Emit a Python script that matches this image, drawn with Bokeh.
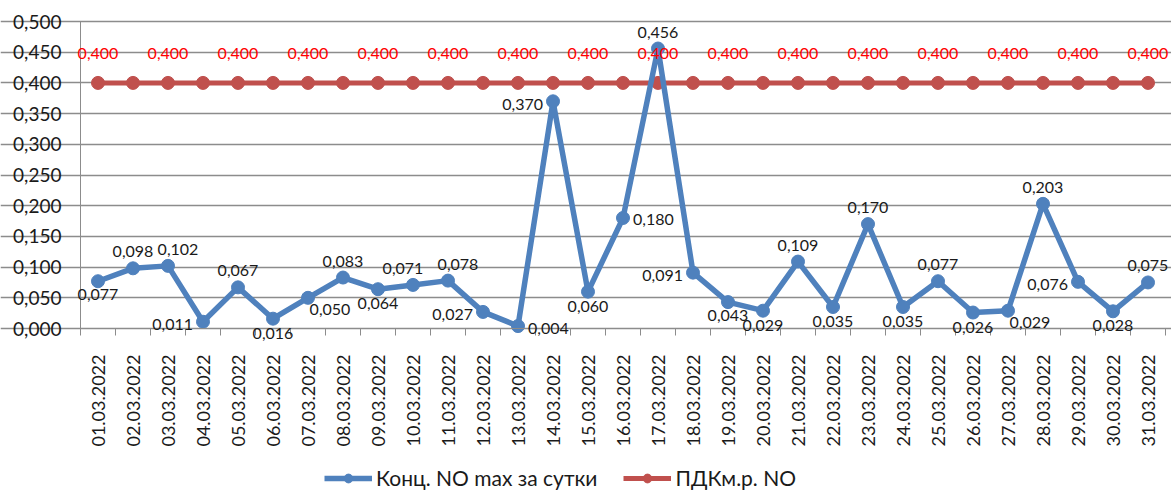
from bokeh.plotting import figure
from bokeh.models import (Range1d, FixedTicker, Legend, LegendItem, ColumnDataSource, LinearAxis,
                          LabelSet)
from bokeh.core.properties import value
from bokeh.embed import file_html
from bokeh.resources import INLINE
import math

# ---- data ----
dates = ["01.03.2022", "02.03.2022", "03.03.2022", "04.03.2022", "05.03.2022", "06.03.2022",
         "07.03.2022", "08.03.2022", "09.03.2022", "10.03.2022", "11.03.2022", "12.03.2022",
         "13.03.2022", "14.03.2022", "15.03.2022", "16.03.2022", "17.03.2022", "18.03.2022",
         "19.03.2022", "20.03.2022", "21.03.2022", "22.03.2022", "23.03.2022", "24.03.2022",
         "25.03.2022", "26.03.2022", "27.03.2022", "28.03.2022", "29.03.2022", "30.03.2022",
         "31.03.2022"]
no_max = [0.077, 0.098, 0.102, 0.011, 0.067, 0.016, 0.050, 0.083, 0.064, 0.071, 0.078,
          0.027, 0.004, 0.370, 0.060, 0.180, 0.456, 0.091, 0.043, 0.029, 0.109, 0.035,
          0.170, 0.035, 0.077, 0.026, 0.029, 0.203, 0.076, 0.028, 0.075]
pdk = [0.400] * 31
y_ticks = [0, 0.05, 0.1, 0.15, 0.2, 0.25, 0.3, 0.35, 0.4, 0.45, 0.5]
y_tick_labels = ["0,000", "0,050", "0,100", "0,150", "0,200", "0,250", "0,300", "0,350",
                 "0,400", "0,450", "0,500"]
series_names = ["Конц. NO max за сутки", "ПДКм.р. NO"]

# label placement of the blue data labels (style only)
label_pos = ["bl", "a", "ar", "l", "a", "b", "br", "a", "b", "al", "ar",
             "l", "r", "l", "b", "r", "a", "l", "bl", "b", "a", "b",
             "a", "b", "a", "b", "br", "a", "l", "b", "a"]

FONT = "Lato"
BLUE = "#4F81BD"
RED = "#C0504D"
GRID = "#8C8C8C"
TXT = "#1a1a1a"

W, H = 1171, 490
LEFT, RIGHT, TOP, BOTTOM = 80, 1165, 21, 328      # plot area in pixels
n = len(dates)
ppx = (RIGHT - LEFT) / n                            # px per category
ppy = (BOTTOM - TOP) / 0.5                          # px per unit
x_start = 0.5 - LEFT / ppx
x_end = n + 0.5 + (W - RIGHT) / ppx
y_end = 0.5 + TOP / ppy
y_start = -(H - BOTTOM) / ppy

x = list(range(1, n + 1))

p = figure(width=W, height=H, x_range=Range1d(x_start, x_end), y_range=Range1d(y_start, y_end),
           output_backend="svg", toolbar_location=None,
           min_border_left=0, min_border_right=0, min_border_top=0, min_border_bottom=0,
           x_axis_location=None, y_axis_location=None)
p.outline_line_color = None
p.background_fill_color = "white"
p.border_fill_color = "white"

# y axis
yax = LinearAxis(ticker=FixedTicker(ticks=y_ticks, minor_ticks=[]), fixed_location=0.5,
                 bounds=(0, 0.5))
yax.major_label_overrides = {t: l for t, l in zip(y_ticks, y_tick_labels)}
yax.axis_line_color = GRID
yax.major_tick_line_color = GRID
yax.major_tick_out = 7
yax.major_tick_in = 0
yax.minor_tick_line_color = None
yax.major_label_text_font = FONT
yax.major_label_text_font_size = "19px"
yax.major_label_text_color = TXT
yax.major_label_standoff = 12
p.add_layout(yax, "left")

# x axis
half = [i + 0.5 for i in range(0, n + 1)]
xax = LinearAxis(ticker=FixedTicker(ticks=x, minor_ticks=half), fixed_location=0,
                 bounds=(0.5, n + 0.5))
xax.major_label_overrides = {i: d for i, d in zip(x, dates)}
xax.axis_line_color = GRID
xax.major_tick_line_color = None
xax.major_tick_out = 0
xax.major_tick_in = 0
xax.minor_tick_line_color = GRID
xax.minor_tick_out = 7
xax.minor_tick_in = 0
xax.major_label_orientation = math.pi / 2
xax.major_label_text_font = FONT
xax.major_label_text_font_size = "18px"
xax.major_label_text_color = TXT
xax.major_label_standoff = 19
p.add_layout(xax, "below")

p.xgrid.visible = False
p.ygrid.ticker = FixedTicker(ticks=y_ticks)
p.ygrid.bounds = (0.5, n + 0.5)
p.ygrid.grid_line_color = GRID
p.ygrid.grid_line_width = 1.3

# red series
red_src = ColumnDataSource(dict(x=x, y=pdk))
r_line = p.line("x", "y", source=red_src, line_color=RED, line_width=5)
r_pts = p.scatter("x", "y", source=red_src, size=13, fill_color=RED, line_color=RED)

# blue series
blue_src = ColumnDataSource(dict(x=x, y=no_max))
b_line = p.line("x", "y", source=blue_src, line_color=BLUE, line_width=5.5, line_join="round")
b_pts = p.scatter("x", "y", source=blue_src, size=13, fill_color=BLUE, line_color=BLUE)

# blue data labels
off = {
    "a": (0, 11, "center", "bottom"),
    "ar": (10, 11, "center", "bottom"),
    "al": (-10, 11, "center", "bottom"),
    "b": (0, -9, "center", "top"),
    "bl": (0, -8, "center", "top"),
    "br": (22, -6, "center", "top"),
    "l": (-10, -3, "right", "middle"),
    "r": (10, -2, "left", "middle"),
}
for code in off:
    idx = [i for i, c in enumerate(label_pos) if c == code]
    if not idx:
        continue
    xo, yo, al, bl = off[code]
    src = ColumnDataSource(dict(
        x=[x[i] for i in idx], y=[no_max[i] for i in idx],
        t=[("%.3f" % no_max[i]).replace(".", ",") for i in idx]))
    p.add_layout(LabelSet(x="x", y="y", text="t", source=src, x_offset=xo, y_offset=yo,
                          text_align=al, text_baseline=bl, text_font=value(FONT),
                          text_font_size="16px", text_color=TXT))

# red data labels (every other point)
ridx = list(range(0, n, 2))
rsrc = ColumnDataSource(dict(x=[x[i] for i in ridx], y=[pdk[i] for i in ridx],
                             t=[("%.3f" % pdk[i]).replace(".", ",") for i in ridx]))
p.add_layout(LabelSet(x="x", y="y", text="t", source=rsrc, y_offset=29, text_align="center",
                      text_baseline="middle", text_font=value(FONT), text_font_size="16px",
                      text_color="#FF0000"))

legend = Legend(items=[LegendItem(label=series_names[0], renderers=[b_line, b_pts]),
                       LegendItem(label=series_names[1], renderers=[r_line, r_pts])],
                orientation="horizontal", location=(324, 0))
legend.label_text_font = FONT
legend.label_text_font_size = "21px"
legend.label_text_color = TXT
legend.glyph_width = 48
legend.glyph_height = 22
legend.label_standoff = 4
legend.spacing = 26
legend.border_line_color = None
legend.background_fill_alpha = 0
legend.padding = 0
legend.margin = 0
p.add_layout(legend)

open("out.html", "w").write(file_html(p, INLINE))
